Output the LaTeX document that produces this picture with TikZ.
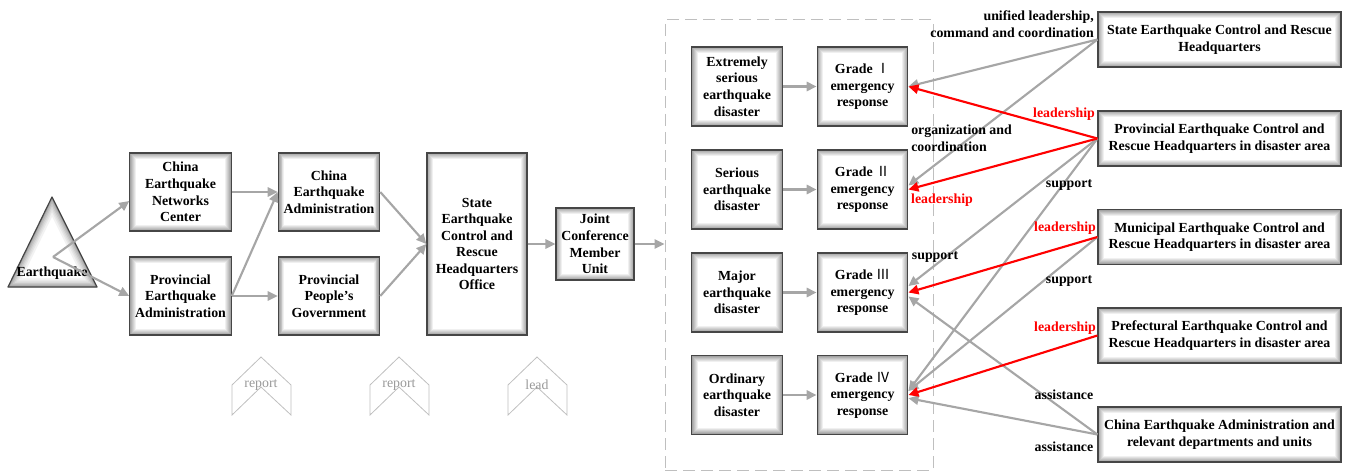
\documentclass[tikz,border=0pt]{standalone}
\usepackage{fontspec}
\setmainfont{Liberation Serif}
\newfontfamily\cjk{Noto Sans CJK SC}
\usepackage{tikz}
\usetikzlibrary{arrows.meta}

\tikzset{
  txt/.style={font=\fontsize{10.4}{12.4}\selectfont\bfseries},
  box/.style={txt, draw=gray!55!black, line width=0.9pt, fill=white, align=center, inner sep=0pt,
    path picture={
      \foreach \k [evaluate=\k as \c using 42-6*\k] in {1,...,6}
        \draw[black!\c, line width=0.8pt]
          ([xshift=\k*0.7pt,yshift=-\k*0.7pt]path picture bounding box.north west) rectangle
          ([xshift=-\k*0.7pt,yshift=\k*0.7pt]path picture bounding box.south east);
    }},
  flowbox/.style={box, minimum width=76pt, minimum height=58.5pt},
  levelbox/.style={box, minimum width=68pt, minimum height=59.25pt},
  hqbox/.style={box, minimum width=182.25pt, minimum height=41.25pt},
  gline/.style={draw=gray!70, line width=1.6pt, -{Triangle[length=7.5pt,width=7pt]}},
  rline/.style={draw=red, line width=1.6pt, -{Triangle[length=7.5pt,width=7pt]}},
  lbl/.style={txt, inner sep=0pt},
  rlbl/.style={lbl, text=red},
  chev/.style={draw=gray!50, line width=0.6pt},
  chevtext/.style={font=\fontsize{10.4}{12}\selectfont, text=gray!80, inner sep=0pt}
}
\newcommand{\rnum}[1]{{\cjk\mdseries #1}}

\begin{document}
\begin{tikzpicture}[x=0.75pt, y=-0.75pt]
\useasboundingbox (0,0) rectangle (1351,474);

%% earthquake
\fill[white] (52,197) -- (97,287) -- (8,287) -- cycle;
\begin{scope}
  \clip (52,197) -- (97,287) -- (8,287) -- cycle;
  \foreach \w/\c in {13/5, 10/10, 8/15, 6/21, 4/28, 2/36}
    \draw[black!\c, line width=\w pt, line join=round] (52,197) -- (97,287) -- (8,287) -- cycle;
\end{scope}
\draw[gray!55!black, line width=0.9pt, line join=round] (52,197) -- (97,287) -- (8,287) -- cycle;
\coordinate (quake) at (53,257);
\node[lbl] (quaketext) at (52,273) {Earthquake};

%% reporting chain
\node[flowbox] (cenc) at (180.5,192) {China\\Earthquake\\Networks\\Center};
\node[flowbox] (pea) at (180.5,296) {Provincial\\Earthquake\\Administration};
\node[flowbox] (cea) at (329,192) {China\\Earthquake\\Administration};
\node[flowbox] (ppg) at (329,296) {Provincial\\People{\char"0027}s\\Government};
\node[box, minimum width=75pt, minimum height=136.5pt] (office) at (477,244)
  {State\\Earthquake\\Control and\\Rescue\\Headquarters\\Office};
\node[box, minimum width=58.5pt, minimum height=54pt] (joint) at (595,244)
  {Joint\\Conference\\Member\\Unit};

\draw[gline] (quake) -- (cenc.190);
\draw[gline] (quake) -- (pea.west);
\draw[gline] (cenc) -- (cea);
\draw[gline] (pea.east) -- (cea.west);
\draw[gline] (pea) -- (ppg);
\draw[gline] (cea.east) -- (office.west);
\draw[gline] (ppg.east) -- (office.west);
\draw[gline] (office) -- (joint);

%% response levels
\node[draw=gray!50, line width=0.75pt, dash pattern=on 9pt off 4.5pt,
  minimum width=201pt, minimum height=337.5pt] (frame) at (799,245) {};
\draw[gline] (joint.east) -- (joint.east -| frame.west);

\node[levelbox] (d1) at (737,86.5) {Extremely\\serious\\earthquake\\disaster};
\node[levelbox] (d2) at (737,189.5) {Serious\\earthquake\\disaster};
\node[levelbox] (d3) at (737,292.5) {Major\\earthquake\\disaster};
\node[levelbox] (d4) at (737,395) {Ordinary\\earthquake\\disaster};
\node[levelbox] (g1) at (862.5,86.5) {Grade \rnum{Ⅰ}\\emergency\\response};
\node[levelbox] (g2) at (862.5,189.5) {Grade \rnum{Ⅱ}\\emergency\\response};
\node[levelbox] (g3) at (862.5,292.5) {Grade \rnum{Ⅲ}\\emergency\\response};
\node[levelbox] (g4) at (862.5,395) {Grade \rnum{Ⅳ}\\emergency\\response};
\foreach \i in {1,...,4}
  \draw[gline] (d\i) -- (g\i);

%% headquarters
\node[hqbox] (hqstate) at (1219.5,39.5) {State Earthquake Control and Rescue\\Headquarters};
\node[hqbox] (hqprov) at (1219.5,138.5) {Provincial Earthquake Control and\\Rescue Headquarters in disaster area};
\node[hqbox] (hqmuni) at (1219.5,237) {Municipal Earthquake Control and\\Rescue Headquarters in disaster area};
\node[hqbox] (hqpref) at (1219.5,335.5) {Prefectural Earthquake Control and\\Rescue Headquarters in disaster area};
\node[hqbox] (ceadept) at (1219.5,434.5) {China Earthquake Administration and\\relevant departments and units};

\draw[gline] (hqstate.west) -- (g1.east);
\draw[gline] (hqstate.west) -- (g2.5);
\draw[gline] (hqprov.west) -- (g3.8);
\draw[gline] (hqprov.west) -- (g4.5);
\draw[gline] (hqmuni.west) -- (g4.5);
\draw[gline] (ceadept.west) -- (g3.-5);
\draw[gline] (ceadept.west) -- (g4.-4);
% red on top
\draw[rline] (hqprov.west) -- (g1.east);
\draw[rline] (hqprov.west) -- (g2.east);
\draw[rline] (hqmuni.west) -- (g3.east);
\draw[rline] (hqpref.west) -- (g4.east);

%% labels
\node[lbl, anchor=east, align=right] (unified) at (1094,24) {unified leadership,\\command and coordination};
\node[lbl, anchor=west, align=left] (orgco) at (911,138) {organization and\\coordination};
\node[rlbl] (lead1) at (1064,114) {leadership};
\node[rlbl] (lead2) at (942,200) {leadership};
\node[rlbl] (lead3) at (1065,228) {leadership};
\node[rlbl] (lead4) at (1065,328) {leadership};
\node[lbl] (sup1) at (1069,185) {support};
\node[lbl] (sup2) at (935,257) {support};
\node[lbl] (sup3) at (1069,281) {support};
\node[lbl] (assist1) at (1064,395) {assistance};
\node[lbl] (assist2) at (1064,447) {assistance};

%% chevrons
\foreach \cx/\word/\nm in {261/report/rep1, 399/report/rep2, 537/lead/lead5}{
  \draw[chev] (\cx-29,385) -- (\cx,357) -- (\cx+30,385) -- (\cx+30,415) -- (\cx,387) -- (\cx-29,415) -- cycle;
  \node[chevtext] (\nm) at (\cx,385) {\word};
}
\end{tikzpicture}
\end{document}
